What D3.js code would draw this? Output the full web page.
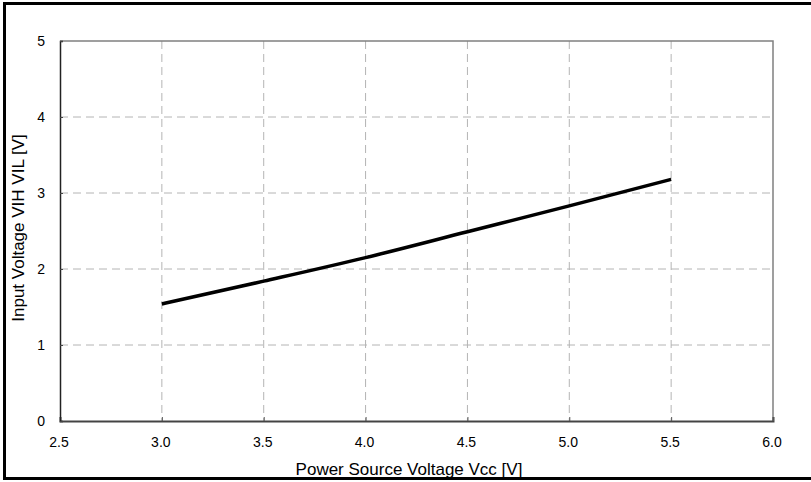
<!DOCTYPE html>
<html lang="en">

<head>
    <meta charset="UTF-8">
    <script src="https://d3js.org/d3.v7.min.js"></script>
    <title>Input Voltage vs Vcc</title>
    <style>
        body { margin: 0; background: #fff; }
        text { font-family: 'Liberation Sans', Arial, sans-serif; }
    </style>
</head>

<body>
    <div id="container"></div>
    <script>
        // data
        const vcc = [3.0, 3.5, 4.0, 4.5, 5.0, 5.5];
        const vin = [1.54, 1.84, 2.15, 2.49, 2.83, 3.18];
        const xTicks = [2.5, 3.0, 3.5, 4.0, 4.5, 5.0, 5.5, 6.0];
        const yTicks = [0, 1, 2, 3, 4, 5];

        const width = 811, height = 482;
        const svg = d3.select("#container")
            .append("svg")
            .attr("width", width)
            .attr("height", height);

        // outer frame (right side runs off the picture)
        svg.append("rect")
            .attr("x", 4.5)
            .attr("y", 3.5)
            .attr("width", 900)
            .attr("height", 475)
            .attr("fill", "none")
            .attr("stroke", "#000")
            .attr("stroke-width", 3);

        let x = d3.scaleLinear()
            .domain([2.5, 6.0])
            .range([60, 773]);
        let y = d3.scaleLinear()
            .domain([0, 5])
            .range([421, 41]);

        // grid
        svg.append("g")
            .selectAll("line")
            .data(xTicks.slice(1, -1))
            .enter()
            .append("line")
            .attr("x1", d => x(d))
            .attr("x2", d => x(d))
            .attr("y1", y(5))
            .attr("y2", y(0))
            .attr("stroke", "#b4b4b4")
            .attr("stroke-dasharray", "8 5");
        svg.append("g")
            .selectAll("line")
            .data(yTicks.slice(1, -1))
            .enter()
            .append("line")
            .attr("x1", x(2.5))
            .attr("x2", x(6.0))
            .attr("y1", d => y(d))
            .attr("y2", d => y(d))
            .attr("stroke", "#b4b4b4")
            .attr("stroke-dasharray", "8 5");

        // top and right borders of the plot
        svg.append("path")
            .attr("d", `M${x(2.5)},${y(5)} L${x(6.0)},${y(5)} L${x(6.0)},${y(0)}`)
            .attr("fill", "none")
            .attr("stroke", "#808080")
            .attr("stroke-width", 1.5);

        // axes
        let xAxis = svg.append("g")
            .attr("transform", `translate(0,${y(0)})`)
            .call(d3.axisBottom(x).tickValues(xTicks).tickSize(-4).tickPadding(16)
                .tickFormat(d3.format(".1f")));
        xAxis.select(".domain").attr("stroke", "#444").attr("stroke-width", 2);
        xAxis.selectAll(".tick line").attr("stroke", "#555");
        xAxis.selectAll("text")
            .attr("font-size", 14)
            .attr("fill", "#000")
            .attr("dx", -1.5);

        let yAxis = svg.append("g")
            .attr("transform", `translate(${x(2.5)},0)`)
            .call(d3.axisLeft(y).tickValues(yTicks).tickSize(-3).tickPadding(15)
                .tickFormat(d3.format("d")));
        yAxis.select(".domain").attr("stroke", "#222").attr("stroke-width", 1.5);
        yAxis.selectAll(".tick line").attr("stroke", "#444");
        yAxis.selectAll("text")
            .attr("font-size", 14)
            .attr("fill", "#000");

        // curve
        let line = d3.line()
            .x((d, i) => x(vcc[i]))
            .y(d => y(d))
            .curve(d3.curveMonotoneX);
        svg.append("path")
            .datum(vin)
            .attr("d", line)
            .attr("fill", "none")
            .attr("stroke", "#000")
            .attr("stroke-width", 3.5);

        // axis titles
        svg.append("text")
            .attr("x", 409)
            .attr("y", 475)
            .attr("text-anchor", "middle")
            .attr("font-size", 17)
            .text("Power Source Voltage Vcc [V]");
        svg.append("text")
            .attr("transform", "translate(24,228) rotate(-90)")
            .attr("text-anchor", "middle")
            .attr("font-size", 17)
            .text("Input Voltage VIH VIL [V]");
    </script>
</body>

</html>
